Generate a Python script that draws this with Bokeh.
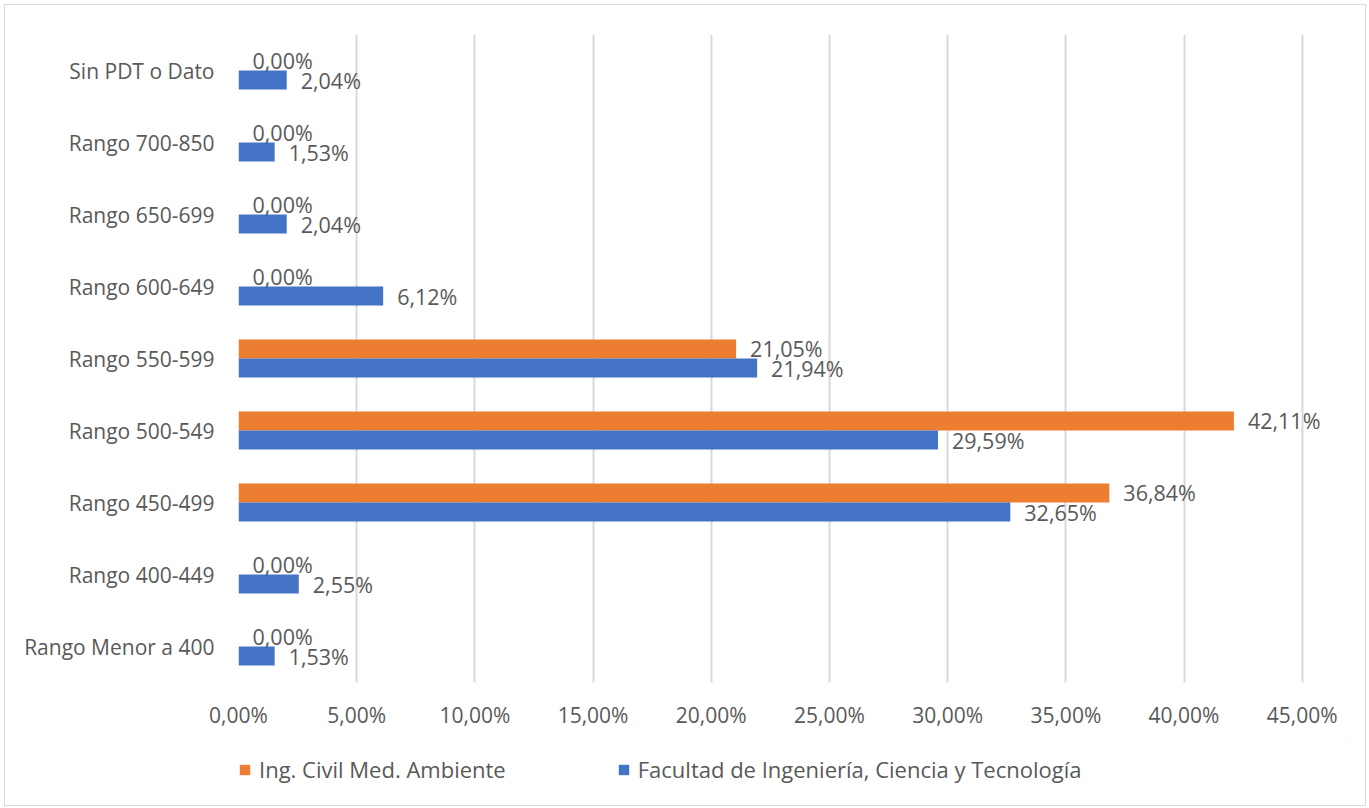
from bokeh.plotting import figure
from bokeh.layouts import column
from bokeh.models import ColumnDataSource, FactorRange, Legend, LegendItem, CustomJSTickFormatter, SingleIntervalTicker
from bokeh.transform import dodge
from bokeh.core.properties import value
from bokeh.embed import file_html
from bokeh.resources import INLINE

categories = ["Rango Menor a 400", "Rango 400-449", "Rango 450-499", "Rango 500-549",
              "Rango 550-599", "Rango 600-649", "Rango 650-699", "Rango 700-850",
              "Sin PDT o Dato"]
civil = [0.00, 0.00, 36.84, 42.11, 21.05, 0.00, 0.00, 0.00, 0.00]
facultad = [1.53, 2.55, 32.65, 29.59, 21.94, 6.12, 2.04, 1.53, 2.04]
series_names = ["Ing. Civil Med. Ambiente", "Facultad de Ingeniería, Ciencia y Tecnología"]
colors = ["#ED7D31", "#4472C4"]

FONT = "Open Sans"
GREY = "#595959"

def fmt(v):
    return f"{v:.2f}".replace(".", ",") + "%"

src = ColumnDataSource(dict(
    cat=categories,
    civil=civil,
    facultad=facultad,
    civil_lbl=[fmt(v) for v in civil],
    fac_lbl=[fmt(v) for v in facultad],
))

p = figure(y_range=FactorRange(factors=categories), x_range=(0, 47),
           frame_width=1111, frame_height=648,
           min_border_left=233, min_border_right=16, min_border_top=29, min_border_bottom=60,
           output_backend="svg", toolbar_location=None)
p.outline_line_color = None
p.background_fill_color = "white"
p.border_fill_color = "white"

r1 = p.hbar(y=dodge("cat", 0.132, range=p.y_range), right="civil", left=0, height=0.264,
            source=src, fill_color=colors[0], line_color=None)
r2 = p.hbar(y=dodge("cat", -0.132, range=p.y_range), right="facultad", left=0, height=0.264,
            source=src, fill_color=colors[1], line_color=None)

p.text(x="civil", y=dodge("cat", 0.132, range=p.y_range), text="civil_lbl", source=src,
       x_offset=14, y_offset=0, text_align="left", text_baseline="middle",
       text_font=value(FONT), text_font_size="21.5px", text_color=GREY)
p.text(x="facultad", y=dodge("cat", -0.132, range=p.y_range), text="fac_lbl", source=src,
       x_offset=14, y_offset=0, text_align="left", text_baseline="middle",
       text_font=value(FONT), text_font_size="21.5px", text_color=GREY)

# axes
p.xaxis.ticker = SingleIntervalTicker(interval=5)
p.xaxis.formatter = CustomJSTickFormatter(code="return tick.toFixed(2).replace('.', ',') + '%';")
p.xaxis.axis_line_color = None
p.xaxis.major_tick_line_color = None
p.xaxis.minor_tick_line_color = None
p.xaxis.major_label_text_font = FONT
p.xaxis.major_label_text_font_size = "21px"
p.xaxis.major_label_text_color = GREY
p.xaxis.major_label_standoff = 12

p.yaxis.axis_line_color = None
p.yaxis.major_tick_line_color = None
p.yaxis.minor_tick_line_color = None
p.yaxis.major_label_text_font = FONT
p.yaxis.major_label_text_font_size = "21px"
p.yaxis.major_label_text_color = GREY
p.yaxis.major_label_standoff = 18

p.xgrid.grid_line_color = "#d9d9d9"
p.xgrid.grid_line_width = 2
p.ygrid.grid_line_color = None

# legend strip below the chart (frame aligned with the main chart's frame)
lf = figure(width=1360, height=63, x_range=(0, 1), y_range=(0, 1),
            min_border_left=233, min_border_right=16, min_border_top=0, min_border_bottom=0,
            x_axis_location=None, y_axis_location=None,
            output_backend="svg", toolbar_location=None)
lf.outline_line_color = None
lf.grid.visible = False
lr = [lf.hbar(y=[5], right=[5], left=4, height=1, fill_color=c, line_color=None) for c in colors]

legend = Legend(items=[LegendItem(label=series_names[i], renderers=[lr[i]]) for i in range(2)],
                location=(0, 21), orientation="horizontal",
                glyph_width=13, glyph_height=13, label_standoff=8, spacing=111,
                label_text_font=FONT, label_text_font_size="22px", label_text_color=GREY,
                border_line_color=None, background_fill_alpha=0, padding=0, margin=0,
                label_text_baseline="middle")
lf.add_layout(legend, "center")

layout = column(p, lf, spacing=0,
                styles={"border": "1px solid #d9d9d9", "margin-left": "4px", "margin-top": "4px"})

open("out.html", "w").write(file_html(layout, INLINE))
